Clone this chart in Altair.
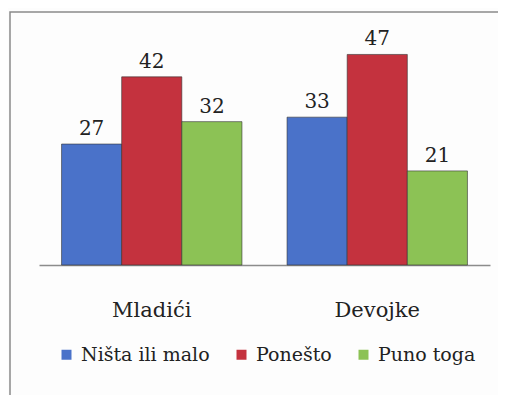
import altair as alt
import pandas as pd

groups = ["Mladići", "Devojke"]
series = ["Ništa ili malo", "Ponešto", "Puno toga"]
values = {
    "Ništa ili malo": [27, 33],
    "Ponešto": [42, 47],
    "Puno toga": [32, 21],
}
colors = ["#4a72c9", "#c4323e", "#8cc255"]

rows = []
for s in series:
    for g, v in zip(groups, values[s]):
        rows.append({"group": g, "series": s, "value": v})
df = pd.DataFrame(rows)

FONT = "DejaVu Serif, serif"

x = alt.X("group:N", sort=groups, title=None,
          scale=alt.Scale(paddingInner=0.2, paddingOuter=0.1),
          axis=alt.Axis(labelAngle=0, labelPadding=34, ticks=False,
                        labelFont=FONT, labelFontSize=21, labelColor="#222222",
                        domainColor="#8c8c8c", domainWidth=1.5))
xo = alt.XOffset("series:N", sort=series, scale=alt.Scale(paddingInner=0, paddingOuter=0))
y = alt.Y("value:Q", scale=alt.Scale(domain=[0, 50]), axis=None)

bars = alt.Chart(df).mark_bar(stroke="#333333", strokeWidth=0.6).encode(
    x=x, xOffset=xo, y=y,
    color=alt.Color("series:N", sort=series,
                    scale=alt.Scale(domain=series, range=colors),
                    legend=alt.Legend(title=None, orient="none", direction="horizontal",
                                      legendX=18, legendY=304,
                                      symbolType="square", symbolSize=100, symbolStrokeWidth=0,
                                      columnPadding=22, symbolOffset=0,
                                      labelOffset=5, labelFont=FONT, labelFontSize=19,
                                      labelColor="#222222")),
)

labels = alt.Chart(df).mark_text(dy=-15, fontSize=20, font=FONT, color="#222222").encode(
    x=x, xOffset=xo, y=y, text="value:Q"
)

frame = alt.Chart(pd.DataFrame({"a": [0]})).mark_rect(
    fill=None, stroke="#8a8a8a", strokeWidth=1.5
).encode(x=alt.value(-29), x2=alt.value(520), y=alt.value(-29), y2=alt.value(420))

chart = alt.layer(frame, bars, labels).properties(
    width=451, height=224,
    background="#fdfdfd",
    autosize=alt.AutoSizeParams(type="none"),
    padding={"left": 31, "top": 33, "right": 8, "bottom": 130},
).configure_view(strokeWidth=0, stroke=None)

chart.save("out.html", embed_options={"renderer": "svg", "actions": False})
